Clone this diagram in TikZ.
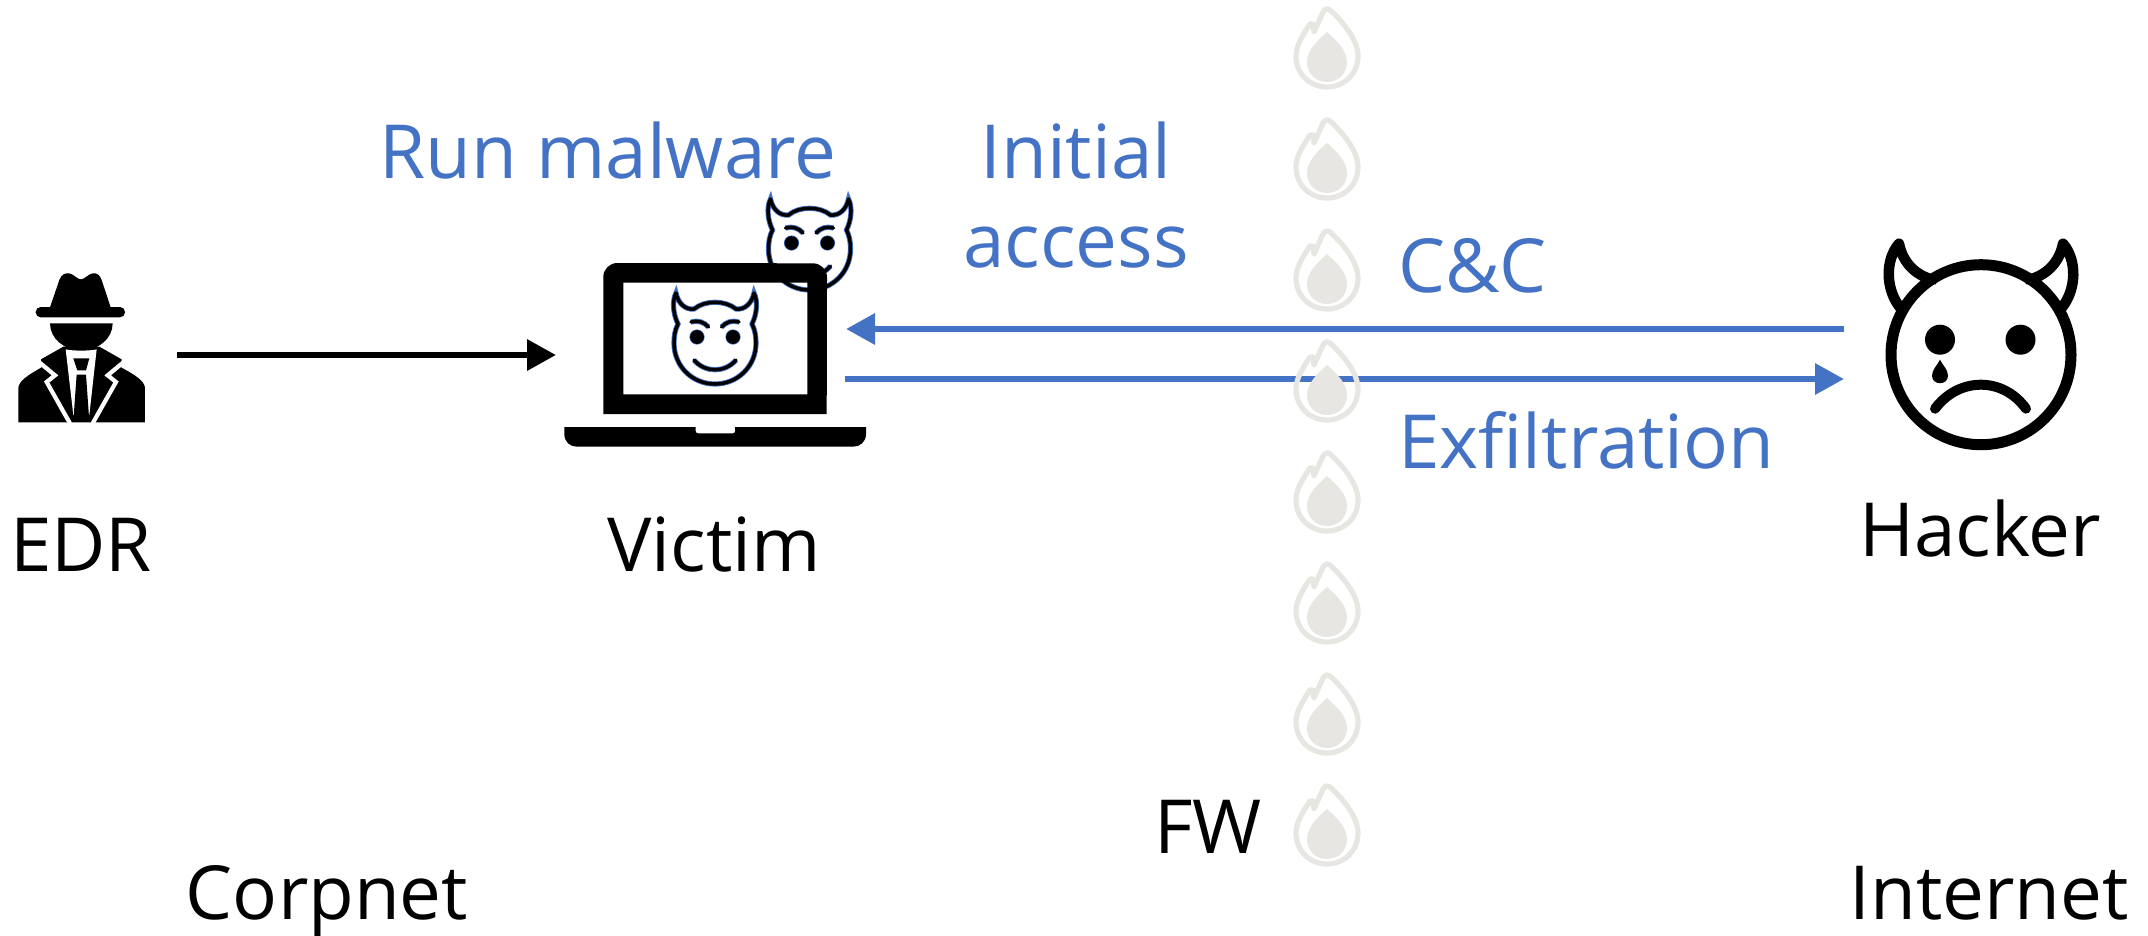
\documentclass[tikz,border=0pt]{standalone}
\usepackage{fontspec}
\setmainfont{Open Sans}
\usetikzlibrary{arrows.meta}
\definecolor{accent}{HTML}{4472C4}
\definecolor{flamegray}{HTML}{E7E6E2}
\tikzset{
  lbl/.style={inner sep=0pt,font=\fontsize{74.6}{74.6}\selectfont,text=black},
  bluelbl/.style={lbl,text=accent},
  conn/.style={line width=6.4pt,-{Triangle[length=29pt,width=30pt]}},
  devilline/.style={line cap=round,line join=round,draw=black,line width=3.5pt,preaction={draw=accent,line width=5.2pt}},
  flamepic/.pic={
    \draw[flamegray,line width=5.2pt,line join=round]
      (-13,26) -- (-14,18) -- (-17,18) .. controls (-25,30) and (-31,40) .. (-31,50)
      .. controls (-31,68) and (-17,81) .. (0,81)
      .. controls (17,81) and (31,68) .. (31,50)
      .. controls (31,33) and (14,14) .. (3,4)
      .. controls (0,2) and (-2,3) .. (-4,6) -- cycle;
    \fill[flamegray] (0,26) .. controls (-9,34) and (-20,44) .. (-20,56)
      .. controls (-20,68) and (-11,76) .. (0,76)
      .. controls (11,76) and (20,68) .. (20,56)
      .. controls (20,44) and (9,34) .. (0,26) -- cycle;
  },
  devilpic/.pic={
    \draw[devilline] (-37,-19) .. controls (-42,-29) and (-43,-42) .. (-39,-50)
      .. controls (-37,-40) and (-30,-33) .. (-21,-34)
      .. controls (-10,-43) and (10,-43) .. (21,-34)
      .. controls (30,-33) and (37,-40) .. (39,-50)
      .. controls (43,-42) and (42,-29) .. (37,-19)
      .. controls (40,-13) and (41,-7) .. (41,0)
      .. controls (41,23) and (23,41) .. (0,41)
      .. controls (-23,41) and (-41,23) .. (-41,0)
      .. controls (-41,-7) and (-40,-13) .. (-37,-19) -- cycle;
    \draw[devilline] (-24,-21) .. controls (-17,-23) and (-11,-21) .. (-6.5,-16);
    \draw[devilline] (24,-21) .. controls (17,-23) and (11,-21) .. (6.5,-16);
    \draw[devilline] (-21,17) .. controls (-10,30) and (10,30) .. (21,17);
    \fill[accent] (-18,-6) circle (7.6);
    \fill[accent] (18,-6) circle (7.6);
    \fill[black] (-18,-6) circle (6.9);
    \fill[black] (18,-6) circle (6.9);
  }
}
\begin{document}
\begin{tikzpicture}[x=1pt,y=-1pt]
\useasboundingbox (0,0) rectangle (2148,935);

% connector ends
\coordinate (edrout) at (177,355);
\coordinate (victimin) at (556,355);
\coordinate (hackerccout) at (1844,329);
\coordinate (victimccin) at (846,329);
\coordinate (victimexout) at (845,379);
\coordinate (hackerexin) at (1844,379);

\draw[conn,draw=black,fill=black] (edrout) -- (victimin);
\draw[conn,draw=accent,fill=accent] (hackerccout) -- (victimccin);
\draw[conn,draw=accent,fill=accent] (victimexout) -- (hackerexin);

% firewall flames
\foreach \yy in {6,117,228,339,450,561,672,783}
  \pic at (1327,\yy) {flamepic};

% spy (EDR)
\begin{scope}[shift={(0,230)},x=0.333333pt,y=-0.333333pt]
  \fill (150,232) -- (178,150) .. controls (184,133) and (196,128) .. (208,130)
    .. controls (222,133) and (232,148) .. (243,148)
    .. controls (254,148) and (264,132) .. (278,130)
    .. controls (292,128) and (300,136) .. (305,150) -- (332,232) -- cycle;
  \fill[rounded corners=5pt] (107,231) rectangle (375,262);
  \fill (150,280) -- (338,280) .. controls (338,325) and (296,361) .. (244,361)
    .. controls (192,361) and (150,325) .. (150,280) -- cycle;
  \fill (55,577) -- (55,475) .. controls (55,452) and (90,432) .. (125,412)
    -- (123,388) -- (190,350) -- (298,350) -- (365,388) -- (363,412)
    .. controls (400,432) and (435,452) .. (435,475) -- (435,577) -- cycle;
  \fill[white] (197,358) .. controls (215,363) and (272,363) .. (290,358) -- (268,555) -- (220,555) -- cycle;
  \fill (220,385) -- (268,385) -- (258,421) -- (232,421) -- cycle;
  \fill (230,434) -- (258,434) -- (267,560) -- (221,560) -- cycle;
  \draw[white,line width=4.2pt,line join=miter] (118,397) -- (165,436) -- (140,456) -- (210,580);
  \draw[white,line width=4.2pt,line join=miter] (370,397) -- (323,436) -- (348,456) -- (278,580);
\end{scope}

% devil behind the laptop, then the laptop with its open screen
\pic at (809.5,249) {devilpic};
\fill[even odd rule]
  (603.3,414) -- (603.3,277) arc[start angle=180,end angle=90,x radius=14,y radius=-14]
  -- (813,263.3) arc[start angle=90,end angle=0,x radius=14,y radius=-14] -- (826.7,414) -- cycle
  (623.3,282.7) rectangle (807.3,394.3);
\fill (564.3,427) -- (695.7,427) -- (695.7,431) .. controls (695.7,432.6) and (696.7,433.3) .. (698,433.3)
  -- (733,433.3) .. controls (734.3,433.3) and (735,432.6) .. (735,431) -- (735,427) -- (866,427)
  -- (866,434) .. controls (866,442) and (860,446.7) .. (853,446.7)
  -- (577,446.7) .. controls (570,446.7) and (564.3,442) .. (564.3,434) -- cycle;
\pic at (715,343) {devilpic};

% crying hacker
\begin{scope}[shift={(1981,354.7)},line cap=round,line join=round]
  \draw[line width=11pt] (0,0) circle (90);
  \draw[line width=10.5pt] (-48,-75) .. controls (-68,-80) and (-79,-95) .. (-82,-111)
    .. controls (-96,-95) and (-96,-65) .. (-80,-46);
  \draw[line width=10.5pt] (48,-75) .. controls (68,-80) and (79,-95) .. (82,-111)
    .. controls (96,-95) and (96,-65) .. (80,-46);
  \fill (-41,-15) circle (15);
  \fill (39.5,-15) circle (15);
  \fill (-41,5) .. controls (-44,11) and (-49,15) .. (-49,21)
    .. controls (-49,26) and (-45,28.5) .. (-41,28.5)
    .. controls (-37,28.5) and (-33,26) .. (-33,21)
    .. controls (-33,15) and (-38,11) .. (-41,5) -- cycle;
  \draw[line width=10pt] (-46,54) .. controls (-22,22) and (22,22) .. (45,54);
\end{scope}

% labels
\node[bluelbl,anchor=base west] (runmal) at (379,178) {Run malware};
\node[bluelbl,anchor=base] (initial) at (1076,178) {Initial};
\node[bluelbl,anchor=base] (access) at (1076,267) {access};
\node[bluelbl,anchor=base west] (cc) at (1398,292) {C\&C};
\node[bluelbl,anchor=base west] (exfil) at (1398,468) {Exfiltration};
\node[lbl,anchor=base] (edr) at (81,571) {EDR};
\node[lbl,anchor=base] (victim) at (714,571) {Victim};
\node[lbl,anchor=base] (hacker) at (1980,556) {Hacker};
\node[lbl,anchor=base] (fw) at (1208,853) {FW};
\node[lbl,anchor=base] (corpnet) at (327,919) {Corpnet};
\node[lbl,anchor=base] (internet) at (1989,919) {Internet};
\end{tikzpicture}
\end{document}
